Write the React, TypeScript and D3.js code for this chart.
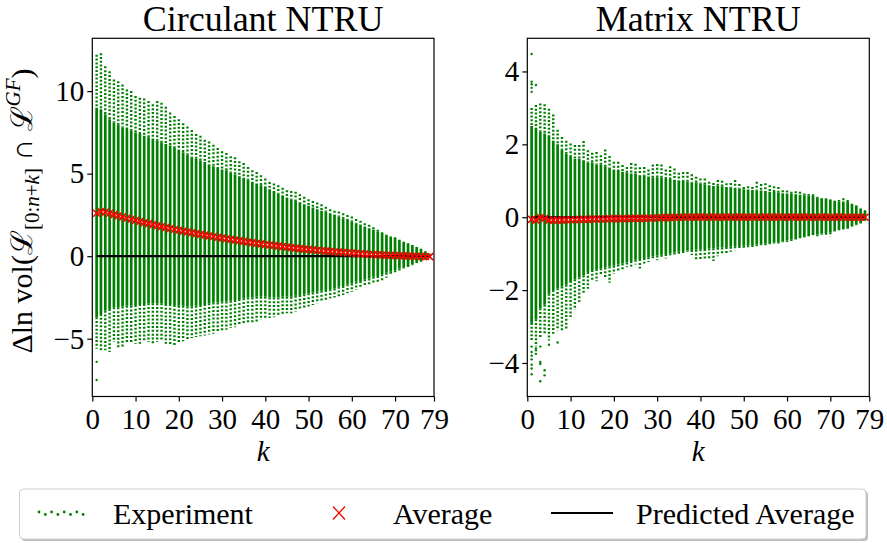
import React, { useEffect, useRef } from "react";
import * as d3 from "d3";

// k = 1..78 (x axis runs 0..79)
const ks = d3.range(1, 79);
const xTicks = [0, 10, 20, 30, 40, 50, 60, 70, 79];

// ---- Circulant NTRU ----
const circOuterTop = [
  12.2, 12.3, 11.5, 11.2, 10.7, 10.6, 10.4, 10.1, 10.0, 9.7,
  9.6, 9.55, 9.4, 9.2, 9.4, 9.3, 9.05, 8.7, 8.5, 8.3,
  8.05, 7.85, 7.65, 7.4, 7.3, 7.05, 6.95, 6.75, 6.55, 6.35,
  6.25, 6.05, 6.0, 5.75, 5.65, 5.4, 5.2, 5.1, 4.9, 4.7,
  4.5, 4.4, 4.3, 4.15, 4.0, 3.95, 3.9, 3.75, 3.6, 3.45,
  3.35, 3.25, 3.15, 3.0, 2.85, 2.75, 2.7, 2.6, 2.5, 2.4,
  2.25, 2.15, 2.0, 1.9, 1.75, 1.6, 1.45, 1.3, 1.2, 1.15,
  1.0, 0.88, 0.78, 0.68, 0.55, 0.45, 0.3, 0.15,
];
const circCoreTop = [
  9.0, 8.9, 8.6, 8.3, 8.1, 8.0, 7.8, 7.7, 7.6, 7.5,
  7.4, 7.3, 7.2, 7.1, 7.0, 6.9, 6.8, 6.7, 6.55, 6.45,
  6.3, 6.15, 6.0, 5.9, 5.8, 5.7, 5.55, 5.45, 5.35, 5.25,
  5.2, 5.05, 4.95, 4.85, 4.75, 4.65, 4.5, 4.4, 4.3, 4.2,
  4.05, 3.95, 3.8, 3.65, 3.55, 3.45, 3.35, 3.25, 3.15, 3.05,
  2.95, 2.85, 2.75, 2.7, 2.6, 2.5, 2.4, 2.3, 2.2, 2.1,
  2.0, 1.9, 1.8, 1.7, 1.6, 1.5, 1.4, 1.3, 1.2, 1.1,
  1.0, 0.88, 0.78, 0.68, 0.55, 0.45, 0.3, 0.15,
];
const circCoreBottom = [
  -3.7, -3.5, -3.3, -3.2, -3.1, -3.1, -3.05, -3.0, -3.0, -2.95,
  -2.9, -2.9, -2.85, -2.85, -2.85, -2.85, -2.9, -2.9, -2.95, -3.0,
  -3.0, -3.05, -3.05, -3.0, -2.95, -2.9, -2.85, -2.8, -2.8, -2.75,
  -2.75, -2.7, -2.65, -2.6, -2.55, -2.5, -2.5, -2.45, -2.45, -2.45,
  -2.5, -2.5, -2.5, -2.45, -2.45, -2.45, -2.4, -2.35, -2.3, -2.25,
  -2.2, -2.15, -2.1, -2.05, -2.0, -1.95, -1.85, -1.8, -1.7, -1.65,
  -1.55, -1.5, -1.4, -1.35, -1.25, -1.2, -1.1, -1.0, -0.95, -0.85,
  -0.75, -0.7, -0.6, -0.5, -0.42, -0.33, -0.22, -0.12,
];
const circOuterBottom = [
  -5.6, -5.8, -5.7, -5.8, -5.2, -5.6, -5.5, -5.3, -5.2, -5.3,
  -5.3, -5.1, -5.2, -5.3, -5.2, -5.1, -5.3, -5.4, -5.45, -5.3,
  -5.15, -5.05, -4.95, -4.9, -4.85, -4.8, -4.75, -4.7, -4.6, -4.5,
  -4.45, -4.35, -4.3, -4.2, -4.15, -4.05, -4.0, -3.95, -3.85, -3.8,
  -3.75, -3.7, -3.65, -3.5, -3.45, -3.45, -3.35, -3.25, -3.15, -3.05,
  -2.95, -2.85, -2.75, -2.65, -2.55, -2.5, -2.45, -2.35, -2.25, -2.15,
  -2.05, -1.95, -1.85, -1.75, -1.65, -1.55, -1.45, -1.3, -1.15, -1.05,
  -0.9, -0.75, -0.65, -0.55, -0.42, -0.33, -0.2, -0.12,
];
const circOutliers: [number, number][] = [
  [1, -6.4],
  [1, -7.5],
];
const circAverage = [
  2.6, 2.7, 2.68, 2.6, 2.52, 2.45, 2.38, 2.3, 2.24, 2.17,
  2.1, 2.03, 1.97, 1.91, 1.85, 1.79, 1.73, 1.68, 1.62, 1.57,
  1.52, 1.47, 1.42, 1.37, 1.32, 1.28, 1.23, 1.19, 1.14, 1.1,
  1.06, 1.02, 0.98, 0.94, 0.9, 0.86, 0.82, 0.78, 0.75, 0.71,
  0.68, 0.65, 0.61, 0.58, 0.55, 0.52, 0.49, 0.46, 0.43, 0.41,
  0.38, 0.36, 0.33, 0.31, 0.29, 0.27, 0.25, 0.23, 0.21, 0.19,
  0.17, 0.15, 0.13, 0.12, 0.1, 0.09, 0.07, 0.06, 0.05, 0.04,
  0.03, 0.02, 0.01, 0.0, 0.0, -0.01, -0.02, -0.03,
];

// ---- Matrix NTRU ----
const matOuterTop = [
  3.0, 3.08, 3.12, 3.1, 2.98, 2.82, 2.4, 2.2, 2.1, 2.02,
  1.98, 1.98, 2.09, 1.84, 1.77, 1.79, 1.7, 1.86, 1.68, 1.52,
  1.52, 1.43, 1.38, 1.49, 1.47, 1.37, 1.38, 1.31, 1.45, 1.46,
  1.45, 1.31, 1.4, 1.34, 1.22, 1.24, 1.24, 1.18, 1.11, 1.06,
  1.06, 0.97, 0.94, 1.02, 1.0, 0.93, 0.94, 1.02, 0.91, 0.83,
  0.85, 0.83, 0.97, 0.91, 0.93, 0.88, 0.85, 0.83, 0.74, 0.73,
  0.7, 0.71, 0.7, 0.65, 0.64, 0.63, 0.56, 0.53, 0.52, 0.49,
  0.45, 0.47, 0.52, 0.47, 0.37, 0.33, 0.24, 0.19,
];
const matCoreTop = [
  2.5, 2.45, 2.35, 2.3, 2.25, 2.1, 2.0, 1.85, 1.75, 1.65,
  1.6, 1.6, 1.55, 1.5, 1.5, 1.45, 1.45, 1.4, 1.35, 1.3,
  1.3, 1.25, 1.22, 1.2, 1.2, 1.15, 1.15, 1.12, 1.1, 1.1,
  1.08, 1.05, 1.05, 1.02, 1.0, 1.0, 0.98, 0.95, 0.95, 0.92,
  0.9, 0.88, 0.86, 0.86, 0.85, 0.83, 0.82, 0.8, 0.79, 0.77,
  0.76, 0.75, 0.74, 0.73, 0.72, 0.7, 0.69, 0.68, 0.66, 0.65,
  0.64, 0.63, 0.62, 0.6, 0.59, 0.58, 0.55, 0.52, 0.5, 0.48,
  0.45, 0.44, 0.43, 0.42, 0.36, 0.32, 0.24, 0.17,
];
const matCoreBottom = [
  -2.9, -2.8, -2.5, -2.4, -2.1, -2.0, -1.95, -1.9, -1.85, -1.75,
  -1.7, -1.65, -1.6, -1.5, -1.45, -1.42, -1.4, -1.38, -1.35, -1.33,
  -1.3, -1.27, -1.24, -1.2, -1.17, -1.15, -1.12, -1.1, -1.07, -1.05,
  -1.03, -1.01, -0.99, -0.97, -0.95, -0.93, -0.91, -0.9, -0.89, -0.88,
  -0.87, -0.86, -0.85, -0.84, -0.83, -0.82, -0.81, -0.8, -0.79, -0.78,
  -0.77, -0.76, -0.75, -0.74, -0.73, -0.71, -0.69, -0.68, -0.66, -0.64,
  -0.62, -0.6, -0.57, -0.55, -0.52, -0.49, -0.47, -0.45, -0.43, -0.41,
  -0.38, -0.35, -0.33, -0.3, -0.25, -0.21, -0.16, -0.1,
];
const matOuterBottom = [
  -3.4, -3.55, -3.3, -3.2, -3.38, -3.2, -3.1, -3.1, -3.06, -2.74,
  -2.54, -2.33, -2.1, -1.96, -1.76, -1.76, -1.59, -1.68, -1.8, -1.55,
  -1.5, -1.46, -1.37, -1.35, -1.3, -1.41, -1.27, -1.23, -1.16, -1.18,
  -1.11, -1.13, -1.09, -1.04, -1.0, -0.98, -0.95, -1.04, -1.2, -1.16,
  -1.16, -1.13, -1.2, -1.07, -1.04, -1.0, -0.95, -0.91, -0.89, -0.86,
  -0.83, -0.83, -0.8, -0.77, -0.77, -0.74, -0.72, -0.72, -0.69, -0.68,
  -0.65, -0.61, -0.58, -0.55, -0.51, -0.49, -0.55, -0.48, -0.48, -0.52,
  -0.39, -0.36, -0.34, -0.32, -0.26, -0.22, -0.17, -0.1,
];
const matOutliers: [number, number][] = [
  [1, 4.48], [1, 3.72], [1, 3.65], [1, 3.55], [1, 3.44], [2, 3.63],
  [1, -4.31], [1, -4.15], [1, -4.05], [1, -3.9], [1, -3.8], [1, -3.7], [1, -3.55],
  [2, -3.75], [2, -3.65], [2, -3.6], [3, -4.5], [3, -4.03], [3, -3.97], [3, -3.55],
  [4, -4.34], [4, -4.2], [5, -3.5], [7, -3.44],
];
const matAverage = [
  -0.06, -0.08, -0.01, -0.03, -0.08, -0.08, -0.08, -0.08, -0.07, -0.07,
  -0.07, -0.06, -0.06, -0.06, -0.05, -0.05, -0.05, -0.05, -0.04, -0.04,
  -0.04, -0.04, -0.04, -0.03, -0.03, -0.03, -0.03, -0.02, -0.02, -0.02,
  -0.01, -0.01, -0.01, 0.0, 0.0, 0.0, 0.01, 0.0, 0.0, 0.01,
  0.0, 0.0, 0.01, 0.0, 0.0, 0.01, 0.0, 0.0, 0.01, 0.0,
  0.0, 0.01, 0.0, 0.0, 0.01, 0.0, 0.0, 0.01, 0.0, 0.0,
  0.01, 0.0, 0.0, 0.01, 0.0, 0.0, 0.0, 0.01, 0.0, 0.0,
  0.0, 0.01, 0.0, 0.0, 0.0, 0.0, 0.0, 0.0,
];

// predicted average is zero for both constructions
const predictedAverage = ks.map(() => 0);

const GREEN = "#008000";
const RED = "#ff0000";
const FONT = "'Liberation Serif', 'DejaVu Serif', 'Times New Roman', serif";

interface Panel {
  title: string;
  outerTop: number[];
  coreTop: number[];
  coreBottom: number[];
  outerBottom: number[];
  outliers: [number, number][];
  average: number[];
  yDomain: [number, number];
  yTicks: number[];
  left: number;
  right: number;
}

const panels: Panel[] = [
  {
    title: "Circulant NTRU",
    outerTop: circOuterTop,
    coreTop: circCoreTop,
    coreBottom: circCoreBottom,
    outerBottom: circOuterBottom,
    outliers: circOutliers,
    average: circAverage,
    yDomain: [-8.5, 13.2],
    yTicks: [-5, 0, 5, 10],
    left: 92.3,
    right: 434,
  },
  {
    title: "Matrix NTRU",
    outerTop: matOuterTop,
    coreTop: matCoreTop,
    coreBottom: matCoreBottom,
    outerBottom: matOuterBottom,
    outliers: matOutliers,
    average: matAverage,
    yDomain: [-4.92, 4.91],
    yTicks: [-4, -2, 0, 2, 4],
    left: 527.3,
    right: 869.3,
  },
];

const fmt = (t: number) => (t < 0 ? "\u2212" + Math.abs(t) : String(t));

const App: React.FC = () => {
  const svgRef = useRef<SVGSVGElement>(null);
  const width = 887;
  const height = 543;

  useEffect(() => {
    if (!svgRef.current) return;
    const svg = d3.select(svgRef.current);
    svg.selectAll("*").remove();

    const top = 38.3;
    const bottom = 396.5;
    const xMark = "M-3.5,-3.5L3.5,3.5M-3.5,3.5L3.5,-3.5";

    panels.forEach((p, pi) => {
      const x = d3.scaleLinear().domain([0, 79]).range([p.left, p.right]);
      const y = d3.scaleLinear().domain(p.yDomain).range([bottom, top]);

      svg
        .append("clipPath")
        .attr("id", `clip${pi}`)
        .append("rect")
        .attr("x", p.left)
        .attr("y", top)
        .attr("width", p.right - p.left)
        .attr("height", bottom - top);

      const g = svg.append("g").attr("clip-path", `url(#clip${pi})`);

      // sparse tails of the experiment columns
      const tails = g
        .append("g")
        .attr("stroke", GREEN)
        .attr("stroke-width", 2.4)
        .attr("stroke-dasharray", "2 1.8");
      tails
        .selectAll("line.up")
        .data(ks)
        .join("line")
        .attr("class", "up")
        .attr("x1", (k) => x(k))
        .attr("x2", (k) => x(k))
        .attr("y1", (_, i) => y(p.outerTop[i]))
        .attr("y2", (_, i) => y(Math.min(p.coreTop[i], p.outerTop[i])));
      tails
        .selectAll("line.down")
        .data(ks)
        .join("line")
        .attr("class", "down")
        .attr("x1", (k) => x(k))
        .attr("x2", (k) => x(k))
        .attr("y1", (_, i) => y(Math.max(p.coreBottom[i], p.outerBottom[i])))
        .attr("y2", (_, i) => y(p.outerBottom[i]));

      // dense core of the experiment columns
      g.append("g")
        .attr("stroke", GREEN)
        .attr("stroke-width", 2.7)
        .selectAll("line")
        .data(ks)
        .join("line")
        .attr("x1", (k) => x(k))
        .attr("x2", (k) => x(k))
        .attr("y1", (_, i) => y(p.coreTop[i]))
        .attr("y2", (_, i) => y(p.coreBottom[i]));

      g.append("g")
        .attr("fill", GREEN)
        .selectAll("circle")
        .data(p.outliers)
        .join("circle")
        .attr("cx", (d) => x(d[0]))
        .attr("cy", (d) => y(d[1]))
        .attr("r", 1.2);

      // predicted average
      const line = d3
        .line<number>()
        .x((k) => x(k))
        .y((_, i) => y(predictedAverage[i]));
      g.append("path")
        .attr("d", line(ks))
        .attr("fill", "none")
        .attr("stroke", "#000")
        .attr("stroke-width", 2.2);

      // average markers
      g.append("g")
        .attr("stroke", RED)
        .attr("stroke-width", 1.6)
        .attr("fill", "none")
        .selectAll("path")
        .data(ks)
        .join("path")
        .attr("transform", (k, i) => `translate(${x(k)},${y(p.average[i])})`)
        .attr("d", xMark);

      // axes
      const ax = svg
        .append("g")
        .attr("transform", `translate(0,${bottom})`)
        .call(d3.axisBottom(x).tickValues(xTicks).tickSize(5).tickPadding(7.4).tickFormat((d) => fmt(+d)));
      const ay = svg
        .append("g")
        .attr("transform", `translate(${p.left},0)`)
        .call(d3.axisLeft(y).tickValues(p.yTicks).tickSize(5).tickPadding(3).tickFormat((d) => fmt(+d)));
      [ax, ay].forEach((a) => {
        a.select(".domain").remove();
        a.attr("font-family", FONT).attr("font-size", 29);
        a.selectAll(".tick line").attr("stroke", "#000").attr("stroke-width", 1.2);
        a.selectAll(".tick text").attr("fill", "#000");
      });

      svg
        .append("rect")
        .attr("x", p.left)
        .attr("y", top)
        .attr("width", p.right - p.left)
        .attr("height", bottom - top)
        .attr("fill", "none")
        .attr("stroke", "#000")
        .attr("stroke-width", 1.2);

      svg
        .append("text")
        .attr("x", (p.left + p.right) / 2)
        .attr("y", 31)
        .attr("text-anchor", "middle")
        .attr("font-family", FONT)
        .attr("font-size", 36)
        .text(p.title);

      svg
        .append("text")
        .attr("x", (p.left + p.right) / 2)
        .attr("y", 461)
        .attr("text-anchor", "middle")
        .attr("font-family", FONT)
        .attr("font-size", 29)
        .attr("font-style", "italic")
        .text("k");
    });

    // y label
    const yl = svg
      .append("text")
      .attr("transform", "translate(32,211) rotate(-90)")
      .attr("text-anchor", "middle")
      .attr("font-family", FONT)
      .attr("font-size", 30);
    yl.append("tspan").text("\u0394ln vol(\u2112");
    yl.append("tspan").attr("font-size", 21).attr("dy", 7).text("[0:");
    yl.append("tspan").attr("font-size", 21).attr("font-style", "italic").text("n");
    yl.append("tspan").attr("font-size", 21).text("+");
    yl.append("tspan").attr("font-size", 21).attr("font-style", "italic").text("k");
    yl.append("tspan").attr("font-size", 21).text("]");
    yl.append("tspan").attr("dy", -7).text(" \u2229 \u2112");
    yl.append("tspan").attr("font-size", 21).attr("dy", -12).attr("font-style", "italic").text("GF");
    yl.append("tspan").attr("dy", 12).text(")");

    // legend
    const lg = svg.append("g");
    lg.append("rect")
      .attr("x", 21.5)
      .attr("y", 491)
      .attr("width", 846.5)
      .attr("height", 50)
      .attr("rx", 4)
      .attr("fill", "#bdbdbd");
    lg.append("rect")
      .attr("x", 19.5)
      .attr("y", 489)
      .attr("width", 846.5)
      .attr("height", 50)
      .attr("rx", 4)
      .attr("fill", "#fff")
      .attr("stroke", "#d0d0d0")
      .attr("stroke-width", 1);
    const legendDots = d3.range(8);
    lg.append("g")
      .attr("fill", GREEN)
      .selectAll("circle")
      .data(legendDots)
      .join("circle")
      .attr("cx", (d) => 39 + d * 6.3)
      .attr("cy", (d) => (d % 2 === 0 ? 512 : 514.5))
      .attr("r", 1.4);
    lg.append("path")
      .attr("transform", "translate(339,513)")
      .attr("d", "M-6,-6.5L6,6.5M-6,6.5L6,-6.5")
      .attr("stroke", RED)
      .attr("stroke-width", 1.3);
    lg.append("line")
      .attr("x1", 551)
      .attr("x2", 613)
      .attr("y1", 513)
      .attr("y2", 513)
      .attr("stroke", "#000")
      .attr("stroke-width", 2.2);
    const labels: [string, number][] = [
      ["Experiment", 113],
      ["Average", 393],
      ["Predicted Average", 636],
    ];
    lg.selectAll("text")
      .data(labels)
      .join("text")
      .attr("x", (d) => d[1])
      .attr("y", 523.5)
      .attr("font-family", FONT)
      .attr("font-size", 30)
      .text((d) => d[0]);
  }, []);

  return (
    <svg
      ref={svgRef}
      width={width}
      height={height}
      style={{ position: "absolute", left: 0, top: 0, background: "#fff" }}
    />
  );
};

export default App;
